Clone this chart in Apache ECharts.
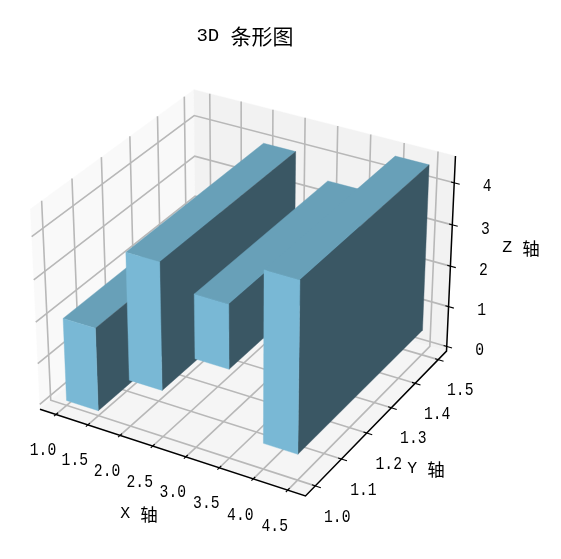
<!DOCTYPE html>
<html><head><meta charset="utf-8">
<style>html,body{margin:0;padding:0;background:#fff}#c{width:561px;height:559px}</style>
<script src="https://cdn.jsdelivr.net/npm/echarts@6/dist/echarts.min.js"></script>
</head><body><div id="c"></div>
<script>
// Bars
const barX = [1, 2, 3, 4];
const barY = [1, 1, 1, 1];
const barBase = [0, 1, 2, 0.5];
const barDX = [0.5, 0.5, 0.5, 0.5];
const barDY = [0.5, 0.5, 0.5, 0.5];
const barDZ = [2, 3, 1.5, 4];
// Tick labels
const xTickLabels = ['1.0','1.5','2.0','2.5','3.0','3.5','4.0','4.5'];
const yTickLabels = ['1.0','1.1','1.2','1.3','1.4','1.5'];
const zTickLabels = ['0','1','2','3','4'];
// Axis box limits
const xLim = [0.745, 4.755];
const yLim = [0.9635, 1.5365];
const zLim = [-0.12, 4.63];

// mplot3d camera: elev 30, azim -60, box aspect 4:4:3
const A = [1.1905, 1.1905, 0.8929];
const camU = [0.866, 0.5, 0];
const camV = [-0.25, 0.433, 0.866];
const camW = [0.433, -0.75, 0.5];
const camDist = 10;
function dot(a, b) { return a[0]*b[0] + a[1]*b[1] + a[2]*b[2]; }
function proj(x, y, z) {
  const q = [
    ((x - xLim[0]) / (xLim[1] - xLim[0]) - 0.5) * A[0],
    ((y - yLim[0]) / (yLim[1] - yLim[0]) - 0.5) * A[1],
    ((z - zLim[0]) / (zLim[1] - zLim[0]) - 0.5) * A[2]
  ];
  const d = camDist - dot(camW, q);
  return [dot(camU, q) / d, dot(camV, q) / d];
}
const X0 = xLim[0], X1 = xLim[1], Y0 = yLim[0], Y1 = yLim[1], Z0 = zLim[0], Z1 = zLim[1];

const MONO = '"Liberation Mono","Noto Sans CJK SC",monospace';
const CJK = '"Noto Sans CJK SC",sans-serif';

function poly(api, pts, fill) {
  return { type: 'polygon',
    shape: { points: pts.map(p => api.coord(proj(p[0], p[1], p[2]))) },
    style: { fill: fill, stroke: fill, lineWidth: 0.4 } };
}
function line(api, pts, stroke, w) {
  return { type: 'polyline',
    shape: { points: pts.map(p => api.coord(proj(p[0], p[1], p[2]))) },
    style: { fill: 'none', stroke: stroke, lineWidth: w } };
}

// Panes
const paneRows = [
  { c: '#f9f9f9', p: [[X0,Y0,Z0],[X0,Y1,Z0],[X0,Y1,Z1],[X0,Y0,Z1]] },
  { c: '#f2f2f2', p: [[X0,Y1,Z0],[X1,Y1,Z0],[X1,Y1,Z1],[X0,Y1,Z1]] },
  { c: '#f5f5f5', p: [[X0,Y0,Z0],[X1,Y0,Z0],[X1,Y1,Z0],[X0,Y1,Z0]] }
];
// Grid lines + ticks + axis lines
const gridRows = [];
xTickLabels.forEach(s => { const v = +s; gridRows.push([[v,Y0,Z0],[v,Y1,Z0],[v,Y1,Z1]]); });
yTickLabels.forEach(s => { const v = +s; gridRows.push([[X1,v,Z0],[X0,v,Z0],[X0,v,Z1]]); });
zTickLabels.forEach(s => { const v = +s; gridRows.push([[X0,Y0,v],[X0,Y1,v],[X1,Y1,v]]); });

const tx = (X1 - X0), ty = (Y1 - Y0);
const inkRows = [
  { w: 1.5, p: [[X0,Y0,Z0],[X1,Y0,Z0],[X1,Y1,Z0],[X1,Y1,Z1]] }
];
xTickLabels.forEach(s => { const v = +s; inkRows.push({ w: 1.1, p: [[v,Y0-ty*0.012,Z0],[v,Y0+ty*0.012,Z0]] }); });
yTickLabels.forEach(s => { const v = +s; inkRows.push({ w: 1.1, p: [[X1-tx*0.012,v,Z0],[X1+tx*0.02,v,Z0]] }); });
zTickLabels.forEach(s => { const v = +s; inkRows.push({ w: 1.1, p: [[X1-tx*0.012,Y1,v],[X1+tx*0.02,Y1,v]] }); });

// Tick label rows with pixel offset from the tick
const labelRows = [];
xTickLabels.forEach(s => labelRows.push({ s, at: [+s,Y0,Z0], off: [-13,36] }));
yTickLabels.forEach(s => labelRows.push({ s, at: [X1,+s,Z0], off: [22,31] }));
zTickLabels.forEach(s => labelRows.push({ s, at: [X1,Y1,+s], off: [33,4] }));

const COL_FRONT = '#79b8d5', COL_TOP = '#68a0b8', COL_SIDE = '#3a5764';

const base = { type: 'custom', clip: false, silent: true, coordinateSystem: 'cartesian2d' };
const idx = rows => rows.map((r, i) => [i]);
const axisRich = {
  a: { fontFamily: MONO, fontSize: 16.5, fill: '#000', color: '#000' },
  b: { fontFamily: CJK, fontSize: 17.5, fill: '#000', color: '#000' }
};

const option = {
  animation: false,
  backgroundColor: '#fff',
  title: {
    text: '{a|3D }{b|条形图}', left: 240, top: 31, textAlign: 'center', textVerticalAlign: 'middle',
    textStyle: { fontWeight: 'normal', rich: {
      a: { fontFamily: MONO, fontSize: 19, fontWeight: 'normal', color: '#000' },
      b: { fontFamily: CJK, fontSize: 21, fontWeight: 'normal', color: '#000' }
    } }
  },
  grid: { left: 0, top: 0, width: 561, height: 559 },
  xAxis: { type: 'value', show: false, min: -0.09667, max: 0.12290 },
  yAxis: { type: 'value', show: false, min: -0.10802, max: 0.11076 },
  series: [
    Object.assign({}, base, { z: 1, data: idx(paneRows),
      renderItem: (p, api) => poly(api, paneRows[p.dataIndex].p, paneRows[p.dataIndex].c) }),
    Object.assign({}, base, { z: 2, data: idx(gridRows),
      renderItem: (p, api) => line(api, gridRows[p.dataIndex], '#b8b8b8', 1.6) }),
    Object.assign({}, base, { z: 3, data: idx(inkRows),
      renderItem: (p, api) => line(api, inkRows[p.dataIndex].p, '#000', inkRows[p.dataIndex].w) }),
    Object.assign({}, base, { z: 4, data: barX.map((v, i) => [v, barY[i], barBase[i], barDX[i], barDY[i], barDZ[i]]),
      encode: { x: [], y: [] },
      renderItem: (p, api) => {
        const x = api.value(0), y = api.value(1), b = api.value(2);
        const x2 = x + api.value(3), y2 = y + api.value(4), t = b + api.value(5);
        return { type: 'group', children: [
          poly(api, [[x,y,t],[x2,y,t],[x2,y2,t],[x,y2,t]], COL_TOP),
          poly(api, [[x2,y,b],[x2,y2,b],[x2,y2,t],[x2,y,t]], COL_SIDE),
          poly(api, [[x,y,b],[x2,y,b],[x2,y,t],[x,y,t]], COL_FRONT)
        ] };
      } }),
    Object.assign({}, base, { z: 5, data: idx(labelRows),
      renderItem: (p, api) => {
        const r = labelRows[p.dataIndex];
        const c = api.coord(proj(r.at[0], r.at[1], r.at[2]));
        return { type: 'text', x: c[0] + r.off[0], y: c[1] + r.off[1], scaleX: 0.84,
          style: { text: r.s, fill: '#000', font: '17.5px ' + MONO, textAlign: 'center', textVerticalAlign: 'middle' } };
      } })
  ],
  graphic: [
    { type: 'text', x: 139, y: 514, style: { rich: axisRich, text: '{a|X }{b|轴}', textAlign: 'center', textVerticalAlign: 'middle' } },
    { type: 'text', x: 426, y: 469, style: { rich: axisRich, text: '{a|Y }{b|轴}', textAlign: 'center', textVerticalAlign: 'middle' } },
    { type: 'text', x: 521, y: 248, style: { rich: axisRich, text: '{a|Z }{b|轴}', textAlign: 'center', textVerticalAlign: 'middle' } }
  ]
};
echarts.init(document.getElementById('c'), null, { renderer: 'canvas' }).setOption(option);
</script></body></html>
